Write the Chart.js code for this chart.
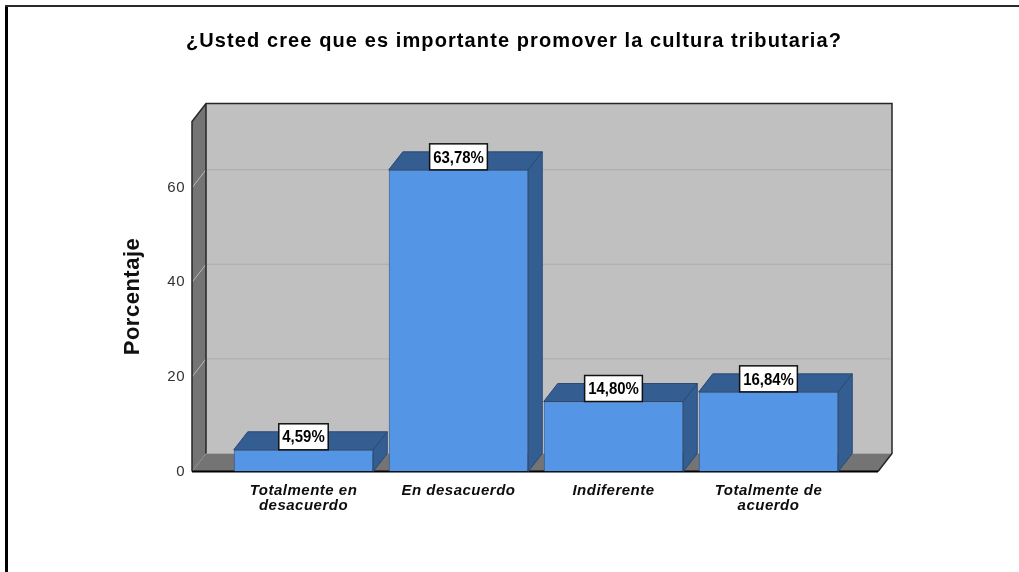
<!DOCTYPE html>
<html>
<head>
<meta charset="utf-8">
<title>Cultura tributaria</title>
<script src="https://cdn.jsdelivr.net/npm/chart.js@4.4.0/dist/chart.umd.min.js"></script>
<style>
  html, body { margin: 0; padding: 0; background: #fff; }
  canvas { display: block; }
</style>
</head>
<body>
<canvas id="myChart" width="1019" height="572"></canvas>
<script>
'use strict';

const chartTitle = '¿Usted cree que es importante promover la cultura tributaria?';
const categories = [['Totalmente en', 'desacuerdo'], 'En desacuerdo', 'Indiferente', ['Totalmente de', 'acuerdo']];
const percentages = [4.59, 63.78, 14.80, 16.84];
const yTicks = [0, 20, 40, 60];
const yMax = 74;

// fake 3d: back plane sits this far right / up from the front plane
const depthX = 14;
const depthY = 18;
// floor and side wall run a bit past the outer bars
const wallLeftExtra = 34;
const wallRightExtra = 32;

const family = '"Liberation Sans", Arial, sans-serif';

let chartCanvas = document.getElementById('myChart');

function poly(ctx, pts) {
  ctx.beginPath();
  ctx.moveTo(pts[0][0], pts[0][1]);
  for (let i = 1; i < pts.length; i++) {
    ctx.lineTo(pts[i][0], pts[i][1]);
  }
  ctx.closePath();
}

function formatPct(v) {
  return v.toFixed(2).replace('.', ',') + '%';
}

const box3d = {
  id: 'box3d',
  beforeDraw(chart) {
    // white page with the frame lines on the top and left
    const ctx = chart.ctx;
    ctx.save();
    ctx.fillStyle = '#fff';
    ctx.fillRect(0, 0, chart.width, chart.height);
    ctx.fillStyle = '#000';
    ctx.fillRect(5, 5, 3, chart.height - 5);
    ctx.fillStyle = '#2a2a2a';
    ctx.fillRect(5, 5, chart.width - 5, 2);

    // title
    ctx.font = 'bold 20px ' + family;
    ctx.letterSpacing = '1.1px';
    ctx.fillStyle = '#000';
    ctx.textAlign = 'center';
    ctx.textBaseline = 'alphabetic';
    ctx.fillText(chartTitle, 514, 47);
    ctx.restore();

    // axis text is drawn slightly spaced too
    ctx.letterSpacing = '0.5px';
  },
  beforeDatasetsDraw(chart) {
    const ctx = chart.ctx;
    const a = chart.chartArea;
    const y = chart.scales.y;
    const x0 = a.left - wallLeftExtra;
    const x1 = a.right + wallRightExtra;
    const bx0 = x0 + depthX;
    const bx1 = x1 + depthX;
    const top = a.top;
    const bot = a.bottom;

    ctx.save();
    // back wall
    ctx.fillStyle = '#c0c0c0';
    ctx.fillRect(bx0, top - depthY, bx1 - bx0, bot - top);

    // left wall
    ctx.fillStyle = '#747474';
    poly(ctx, [[x0, bot], [x0, top], [bx0, top - depthY], [bx0, bot - depthY]]);
    ctx.fill();

    // floor
    poly(ctx, [[x0, bot], [x1, bot], [bx1, bot - depthY], [bx0, bot - depthY]]);
    ctx.fill();

    // grid lines on the back wall, and the slanted ones on the side wall
    ctx.lineWidth = 1;
    for (let i = 0; i < yTicks.length; i++) {
      if (yTicks[i] === 0) continue;
      const py = y.getPixelForValue(yTicks[i]);
      ctx.strokeStyle = '#acacac';
      ctx.beginPath();
      ctx.moveTo(bx0, py - depthY);
      ctx.lineTo(bx1, py - depthY);
      ctx.stroke();
      ctx.strokeStyle = '#b8b8b8';
      ctx.beginPath();
      ctx.moveTo(x0, py);
      ctx.lineTo(bx0, py - depthY);
      ctx.stroke();
    }

    // edges
    ctx.strokeStyle = '#262626';
    ctx.lineWidth = 1.5;
    ctx.beginPath();
    ctx.moveTo(x0, bot);
    ctx.lineTo(x0, top);
    ctx.lineTo(bx0, top - depthY);
    ctx.lineTo(bx1, top - depthY);
    ctx.lineTo(bx1, bot - depthY);
    ctx.lineTo(x1, bot);
    ctx.moveTo(bx0, top - depthY);
    ctx.lineTo(bx0, bot - depthY);
    ctx.stroke();

    ctx.strokeStyle = '#000';
    ctx.lineWidth = 2;
    ctx.beginPath();
    ctx.moveTo(x0, bot);
    ctx.lineTo(x1, bot);
    ctx.stroke();
    ctx.restore();
  },
  afterDatasetsDraw(chart) {
    const ctx = chart.ctx;
    const meta = chart.getDatasetMeta(0);
    ctx.save();
    ctx.letterSpacing = '0px';
    meta.data.forEach(function(bar, i) {
      const p = bar.getProps(['x', 'y', 'base', 'width'], true);
      const l = p.x - p.width / 2;
      const r = p.x + p.width / 2;

      // top and right side faces
      ctx.fillStyle = '#345d91';
      ctx.strokeStyle = '#2a4a73';
      ctx.lineWidth = 1;
      poly(ctx, [[l, p.y], [l + depthX, p.y - depthY], [r + depthX, p.y - depthY], [r, p.y]]);
      ctx.fill();
      ctx.stroke();
      poly(ctx, [[r, p.y], [r + depthX, p.y - depthY], [r + depthX, p.base - depthY], [r, p.base]]);
      ctx.fill();
      ctx.stroke();

      // value box, text squeezed horizontally
      const text = formatPct(percentages[i]);
      const squeeze = 0.88;
      ctx.font = 'bold 17px ' + family;
      const w = ctx.measureText(text).width * squeeze + 7;
      const h = 26;
      const bx = p.x - w / 2;
      const by = p.y - h;
      ctx.fillStyle = '#fff';
      ctx.fillRect(bx, by, w, h);
      ctx.strokeStyle = '#111';
      ctx.lineWidth = 1.5;
      ctx.strokeRect(bx, by, w, h);
      ctx.save();
      ctx.translate(p.x, by + h / 2 + 1);
      ctx.scale(squeeze, 1);
      ctx.fillStyle = '#000';
      ctx.textAlign = 'center';
      ctx.textBaseline = 'middle';
      ctx.fillText(text, 0, 0);
      ctx.restore();
    });
    ctx.restore();
  }
};

new Chart(chartCanvas, {
  type: 'bar',
  data: {
    labels: categories,
    datasets: [{
      data: percentages,
      backgroundColor: '#5595e5',
      borderColor: '#2e5384',
      borderWidth: 1,
      categoryPercentage: 0.9,
      barPercentage: 1
    }]
  },
  options: {
    responsive: false,
    animation: false,
    devicePixelRatio: 1,
    layout: {
      padding: { left: 19, right: 173, top: 121.5, bottom: 0 }
    },
    plugins: {
      legend: { display: false },
      tooltip: { enabled: false },
      title: { display: false }
    },
    scales: {
      x: {
        grid: { display: false, drawTicks: false },
        border: { display: false },
        ticks: {
          color: '#0d0d0d',
          padding: 12,
          maxRotation: 0,
          autoSkip: false,
          font: { family: family, size: 15, weight: 'bold', style: 'italic', lineHeight: 1.0 }
        },
        afterFit: function(s) { s.height = 100.5; }
      },
      y: {
        min: 0,
        max: yMax,
        grid: { display: false, drawTicks: false },
        border: { display: false },
        ticks: {
          color: '#333',
          padding: 41,
          font: { family: family, size: 15 }
        },
        afterBuildTicks: function(s) {
          s.ticks = yTicks.map(function(v) { return { value: v }; });
        },
        afterFit: function(s) { s.width = 207; },
        title: {
          display: true,
          text: 'Porcentaje',
          color: '#111',
          font: { family: family, size: 22, weight: 'bold' },
          padding: { top: 100.8, bottom: 0 }
        }
      }
    }
  },
  plugins: [box3d]
});
</script>
</body>
</html>
